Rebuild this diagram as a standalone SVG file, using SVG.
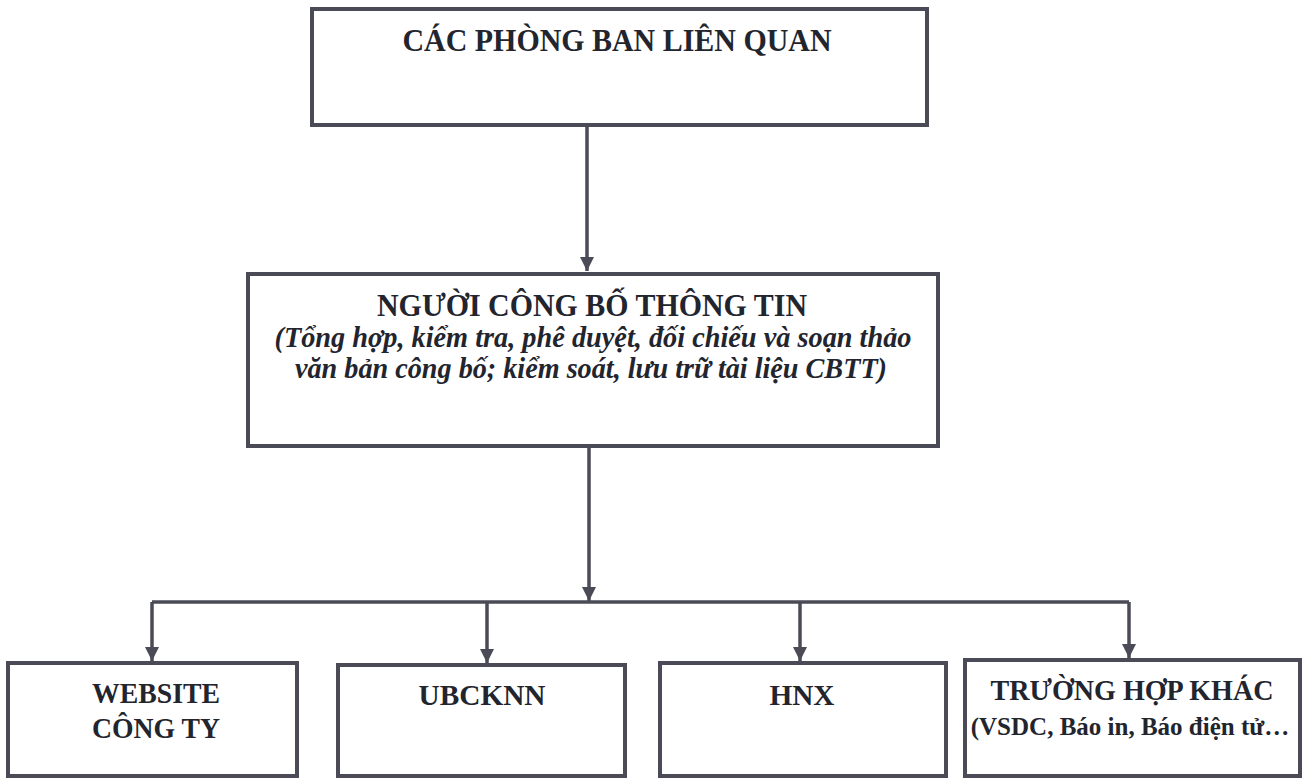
<svg xmlns="http://www.w3.org/2000/svg" width="1302" height="778" viewBox="0 0 1302 778">
  <defs>
    <marker id="ah" markerUnits="userSpaceOnUse" markerWidth="14" markerHeight="14" refX="14" refY="7" orient="auto" viewBox="0 0 14 14">
      <path d="M0,0 L14,7 L0,14 Z" fill="#4b4b57"/>
    </marker>
  </defs>
  <style>
    .box { fill: #ffffff; stroke: #4b4b57; stroke-width: 4; }
    .conn { fill: none; stroke: #4b4b57; stroke-width: 3.5; }
    .t { font-family: "Liberation Serif", "Times New Roman", serif; font-weight: bold; fill: #22252e; text-anchor: middle; }
    .it { font-style: italic; }
  </style>
  <rect width="1302" height="778" fill="#ffffff"/>

  <g id="connectors">
    <line class="conn" x1="587" y1="127" x2="587" y2="271" marker-end="url(#ah)"/>
    <line class="conn" x1="589" y1="448" x2="589" y2="601" marker-end="url(#ah)"/>
    <line class="conn" x1="152" y1="602" x2="1129" y2="602"/>
    <line class="conn" x1="152" y1="602" x2="152" y2="661" marker-end="url(#ah)"/>
    <line class="conn" x1="487" y1="602" x2="487" y2="663" marker-end="url(#ah)"/>
    <line class="conn" x1="800" y1="602" x2="800" y2="661" marker-end="url(#ah)"/>
    <line class="conn" x1="1129" y1="602" x2="1129" y2="658" marker-end="url(#ah)"/>
  </g>

  <g id="node-phong-ban">
    <rect class="box" x="312" y="9" width="615" height="116"/>
    <text class="t" x="617" y="51" font-size="32" textLength="429" lengthAdjust="spacingAndGlyphs">CÁC PHÒNG BAN LIÊN QUAN</text>
  </g>

  <g id="node-nguoi-cbtt">
    <rect class="box" x="248" y="274" width="690" height="172"/>
    <text class="t" x="592" y="316" font-size="32" textLength="430" lengthAdjust="spacingAndGlyphs">NGƯỜI CÔNG BỐ THÔNG TIN</text>
    <text class="t it" x="593" y="347" font-size="29" textLength="637" lengthAdjust="spacingAndGlyphs">(Tổng hợp, kiểm tra, phê duyệt, đối chiếu và soạn thảo</text>
    <text class="t it" x="591" y="378" font-size="29" textLength="592" lengthAdjust="spacingAndGlyphs">văn bản công bố; kiểm soát, lưu trữ tài liệu CBTT)</text>
  </g>

  <g id="node-website">
    <rect class="box" x="8" y="663" width="289" height="113"/>
    <text class="t" x="156" y="703" font-size="29" textLength="128" lengthAdjust="spacingAndGlyphs">WEBSITE</text>
    <text class="t" x="156" y="738" font-size="29" textLength="128" lengthAdjust="spacingAndGlyphs">CÔNG TY</text>
  </g>

  <g id="node-ubcknn">
    <rect class="box" x="338" y="665" width="287" height="111"/>
    <text class="t" x="482" y="705" font-size="29" textLength="127" lengthAdjust="spacingAndGlyphs">UBCKNN</text>
  </g>

  <g id="node-hnx">
    <rect class="box" x="660" y="663" width="286" height="113"/>
    <text class="t" x="802" y="705" font-size="29" textLength="65" lengthAdjust="spacingAndGlyphs">HNX</text>
  </g>

  <g id="node-khac">
    <rect class="box" x="965" y="660" width="335" height="116"/>
    <text class="t" x="1132" y="700" font-size="29" textLength="283" lengthAdjust="spacingAndGlyphs">TRƯỜNG HỢP KHÁC</text>
    <text class="t" x="1130" y="735" font-size="25">(VSDC, Báo in, Báo điện tử…</text>
  </g>
</svg>
